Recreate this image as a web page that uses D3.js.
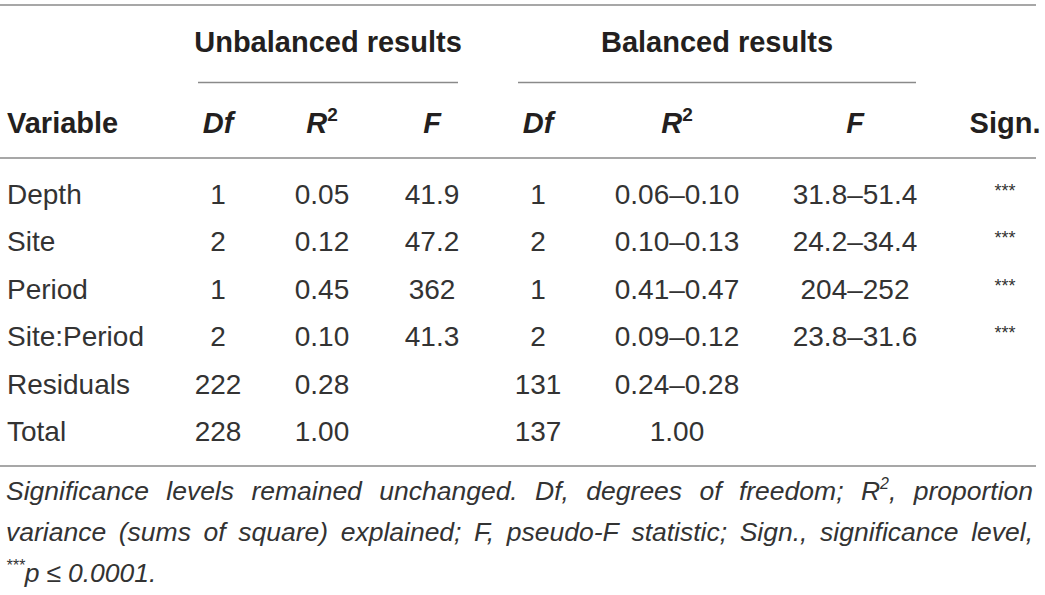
<!DOCTYPE html>
<html>
<head>
<meta charset="utf-8">
<script src="https://cdn.jsdelivr.net/npm/d3@7/dist/d3.min.js"></script>
<style>
  html, body { margin: 0; padding: 0; background: #fff; }
  svg { display: block; font-family: "Liberation Sans", Arial, Helvetica, sans-serif; }
</style>
</head>
<body>
<div id="table"></div>
<script>
// table values
const variables = ['Depth', 'Site', 'Period', 'Site:Period', 'Residuals', 'Total'];
const dfUnbalanced = ['1', '2', '1', '2', '222', '228'];
const r2Unbalanced = ['0.05', '0.12', '0.45', '0.10', '0.28', '1.00'];
const fUnbalanced = ['41.9', '47.2', '362', '41.3', '', ''];
const dfBalanced = ['1', '2', '1', '2', '131', '137'];
const r2Balanced = ['0.06–0.10', '0.10–0.13', '0.41–0.47', '0.09–0.12', '0.24–0.28', '1.00'];
const fBalanced = ['31.8–51.4', '24.2–34.4', '204–252', '23.8–31.6', '', ''];
const significance = ['***', '***', '***', '***', '', ''];
const groupTitles = ['Unbalanced results', 'Balanced results'];
// [..] marks superscript
const footnoteLines = [
	'Significance levels remained unchanged. Df, degrees of freedom; R[2], proportion',
	'variance (sums of square) explained; F, pseudo-F statistic; Sign., significance level,',
	'[***]p ≤ 0.0001.'
];

const WIDTH = 1045;
const HEIGHT = 595;
const TEXT = '#333333';
const HEAD = '#231f20';
const RULE = '#8a8a8a';

// column layout: key, header, x centre
const columns = [
	{ key: 'var', values: variables, x: 7, anchor: 'start', head: [{ t: 'Variable' }] },
	{ key: 'dfU', values: dfUnbalanced, x: 218, head: [{ t: 'Df', it: true }] },
	{ key: 'r2U', values: r2Unbalanced, x: 322, head: [{ t: 'R', it: true }, { t: '2', sup: true }] },
	{ key: 'fU', values: fUnbalanced, x: 432, head: [{ t: 'F', it: true }] },
	{ key: 'dfB', values: dfBalanced, x: 538, head: [{ t: 'Df', it: true }] },
	{ key: 'r2B', values: r2Balanced, x: 677, head: [{ t: 'R', it: true }, { t: '2', sup: true }] },
	{ key: 'fB', values: fBalanced, x: 855, head: [{ t: 'F', it: true }] },
	{ key: 'sig', values: significance, x: 1005, head: [{ t: 'Sign.' }] }
];

const svg = d3.select('#table').append('svg')
	.attr('width', WIDTH)
	.attr('height', HEIGHT);

// row baselines
const y = d3.scalePoint().domain(variables).range([204, 441]);

// rules
function rule (x1, x2, yy) {
	svg.append('line')
		.attr('x1', x1).attr('x2', x2)
		.attr('y1', yy).attr('y2', yy)
		.style('stroke', RULE)
		.style('stroke-width', 1.4);
}
rule(0, 1036, 5);
rule(198, 458, 82.5);
rule(518, 916, 82.5);
rule(0, 1036, 158);
rule(0, 1036, 466);

// group titles
const groupX = [328, 717];
svg.selectAll('.group')
	.data(groupTitles)
	.enter().append('text')
	.attr('class', 'group')
	.attr('x', function (d, i) { return groupX[i]; })
	.attr('y', 52)
	.attr('text-anchor', 'middle')
	.style('font-size', '29px')
	.style('font-weight', 'bold')
	.attr('fill', HEAD)
	.text(function (d) { return d; });

// header row
columns.forEach(function (c) {
	var t = svg.append('text')
		.attr('x', c.x)
		.attr('y', 133)
		.attr('text-anchor', c.anchor || 'middle')
		.style('font-size', '29px')
		.style('font-weight', 'bold')
		.attr('fill', HEAD);
	c.head.forEach(function (p) {
		var s = t.append('tspan').text(p.t);
		if (p.it) s.style('font-style', 'italic');
		if (p.sup) s.style('font-size', '19px').attr('dy', -12);
	});
});

// body cells
columns.forEach(function (c) {
	svg.selectAll('.cell-' + c.key)
		.data(c.values)
		.enter().append('text')
		.attr('class', 'cell-' + c.key)
		.attr('x', c.x)
		.attr('y', function (d, i) { return y(variables[i]); })
		.attr('dy', c.key === 'sig' ? -7 : 0)
		.attr('text-anchor', c.anchor || 'middle')
		.style('font-size', c.key === 'sig' ? '18px' : '28px')
		.attr('fill', TEXT)
		.text(function (d) { return d; });
});

// footnote, justified over the table width
const FOOT_LEFT = 6;
const FOOT_RIGHT = 1033;
const footY = [500, 541, 582];
footnoteLines.forEach(function (line, li) {
	var words = line.split(' ');
	var g = svg.append('g');
	var nodes = words.map(function (w) {
		var t = g.append('text')
			.attr('y', footY[li])
			.style('font-size', '26.5px')
			.style('font-style', 'italic')
			.attr('fill', TEXT);
		var parts = w.split(/(\[[^\]]*\])/);
		var raised = false;
		parts.forEach(function (p) {
			if (!p) return;
			if (p.charAt(0) === '[') {
				t.append('tspan').text(p.slice(1, -1))
					.style('font-size', '16px').attr('dy', -11);
				raised = true;
			} else {
				var s = t.append('tspan').text(p);
				if (raised) { s.attr('dy', 11); raised = false; }
			}
		});
		return t;
	});
	var widths = nodes.map(function (n) { return n.node().getComputedTextLength(); });
	var total = d3.sum(widths);
	var last = li === footnoteLines.length - 1;
	var gap = last ? 7 : (FOOT_RIGHT - FOOT_LEFT - total) / (nodes.length - 1);
	var x = FOOT_LEFT;
	nodes.forEach(function (n, i) {
		n.attr('x', x);
		x += widths[i] + gap;
	});
});
</script>
</body>
</html>
